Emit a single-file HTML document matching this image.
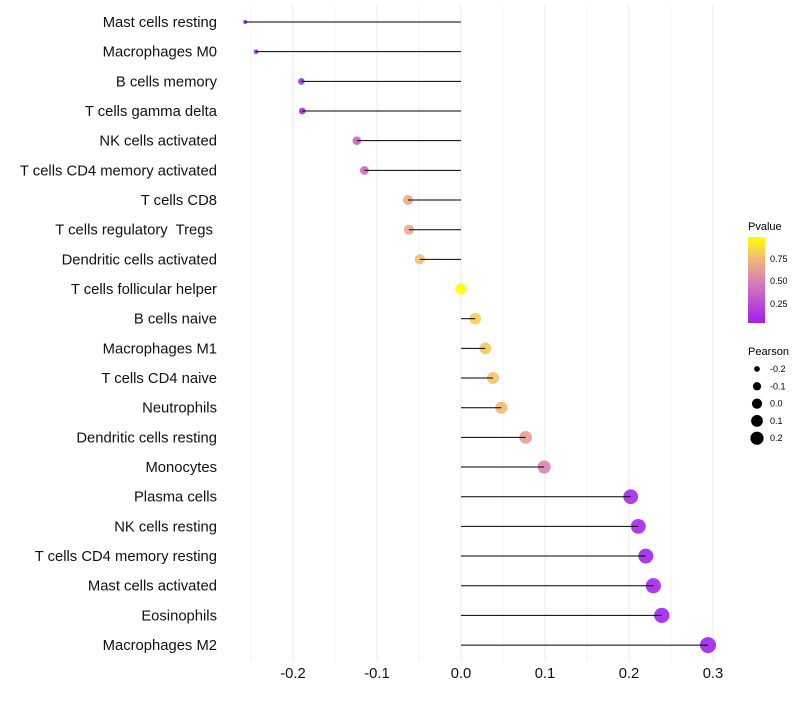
<!DOCTYPE html>
<html><head><meta charset="utf-8"><style>
body{margin:0;background:#fff}
text{font-family:"Liberation Sans",sans-serif;white-space:pre}
</style></head><body>
<svg id="c" width="800" height="700" xmlns="http://www.w3.org/2000/svg">
<g id="grid"></g>
<g id="marks"></g>
<g id="axes"></g>
<g id="legend">
<defs><linearGradient id="pg" x1="0" y1="1" x2="0" y2="0">
<stop offset="0" stop-color="#A020F0"/><stop offset="0.5" stop-color="#DA82B2"/><stop offset="0.75" stop-color="#F2BA76"/><stop offset="1" stop-color="#FFFF00"/></linearGradient></defs>
<text x="748" y="230" font-size="11" fill="#000">Pvalue</text>
<rect x="748" y="237" width="17" height="86" fill="url(#pg)"/>
<text x="770" y="262" font-size="9">0.75</text>
<text x="770" y="284" font-size="9">0.50</text>
<text x="770" y="307" font-size="9">0.25</text>
<text x="748" y="355" font-size="11">Pearson</text>
</g>
</svg>
<script>
const categories=["Mast cells resting","Macrophages M0","B cells memory","T cells gamma delta","NK cells activated","T cells CD4 memory activated","T cells CD8","T cells regulatory  Tregs ","Dendritic cells activated","T cells follicular helper","B cells naive","Macrophages M1","T cells CD4 naive","Neutrophils","Dendritic cells resting","Monocytes","Plasma cells","NK cells resting","T cells CD4 memory resting","Mast cells activated","Eosinophils","Macrophages M2"];
const pearson=[-0.257,-0.244,-0.190,-0.189,-0.124,-0.115,-0.063,-0.062,-0.049,0.0,0.017,0.029,0.038,0.048,0.077,0.099,0.202,0.211,0.220,0.229,0.239,0.294];
const pvalue=[0.01,0.02,0.08,0.08,0.35,0.38,0.68,0.68,0.76,1.0,0.82,0.8,0.78,0.75,0.62,0.5,0.04,0.04,0.03,0.03,0.02,0.01];
const xTicks=[-0.2,-0.1,0.0,0.1,0.2,0.3];
const xTickLabels=["-0.2","-0.1","0.0","0.1","0.2","0.3"];
const legendSizes=[-0.2,-0.1,0.0,0.1,0.2];
const legendLabels=["-0.2","-0.1","0.0","0.1","0.2"];

const NS="http://www.w3.org/2000/svg";
const x=v=>461+v*840;
const y=i=>22+i*29.67;
const r=v=>Math.sqrt(Math.max(2,32+109*v));
function lerp(a,b,t){return a.map((c,k)=>Math.round(c+(b[k]-c)*t));}
function col(p){const s=[[0,[160,32,240]],[0.5,[218,130,178]],[0.75,[242,186,118]],[1,[255,255,0]]];
for(let k=1;k<s.length;k++){if(p<=s[k][0]){const t=(p-s[k-1][0])/(s[k][0]-s[k-1][0]);const c=lerp(s[k-1][1],s[k][1],t);return `rgb(${c})`;}}return "rgb(255,255,0)";}
function mk(tag,at,parent){const e=document.createElementNS(NS,tag);for(const k in at)e.setAttribute(k,at[k]);parent.appendChild(e);return e;}
const grid=document.getElementById('grid'),marks=document.getElementById('marks'),axes=document.getElementById('axes'),legend=document.getElementById('legend');
for(let v=-0.25;v<=0.301;v+=0.05){
 const g=mk('line',{x1:x(v),x2:x(v),y1:5,y2:662,stroke:'#ebebeb','stroke-width':Math.abs(Math.round(v*100)%10)<1?1:0.6},grid);
 
 
}
categories.forEach((c,i)=>{
 const pt=mk('circle',{cx:x(pearson[i]),cy:y(i),r:r(pearson[i]),fill:col(pvalue[i]),'fill-opacity':0.9},marks);
 
 
 const ln=mk('line',{x1:x(0),x2:x(pearson[i]),y1:y(i),y2:y(i),stroke:'#000','stroke-width':1},marks);
 
 
 const t=mk('text',{x:217,y:y(i)+5,'text-anchor':'end','font-size':14.8,fill:'#111'},axes);
 t.textContent=c;
 
 
});
xTicks.forEach((v,i)=>{
 const t=mk('text',{x:x(v),y:678,'text-anchor':'middle','font-size':14.8,fill:'#111'},axes);
 t.textContent=xTickLabels[i];
 
 
});
legendSizes.forEach((v,i)=>{
 const yy=369+i*17.3;
 const d=mk('circle',{cx:757,cy:yy,r:r(v)*0.9,fill:'#000'},legend);
 
 
 const t=mk('text',{x:770,y:yy+3,'font-size':9},legend);
 t.textContent=legendLabels[i];
 
 
});
</script>
</body></html>
